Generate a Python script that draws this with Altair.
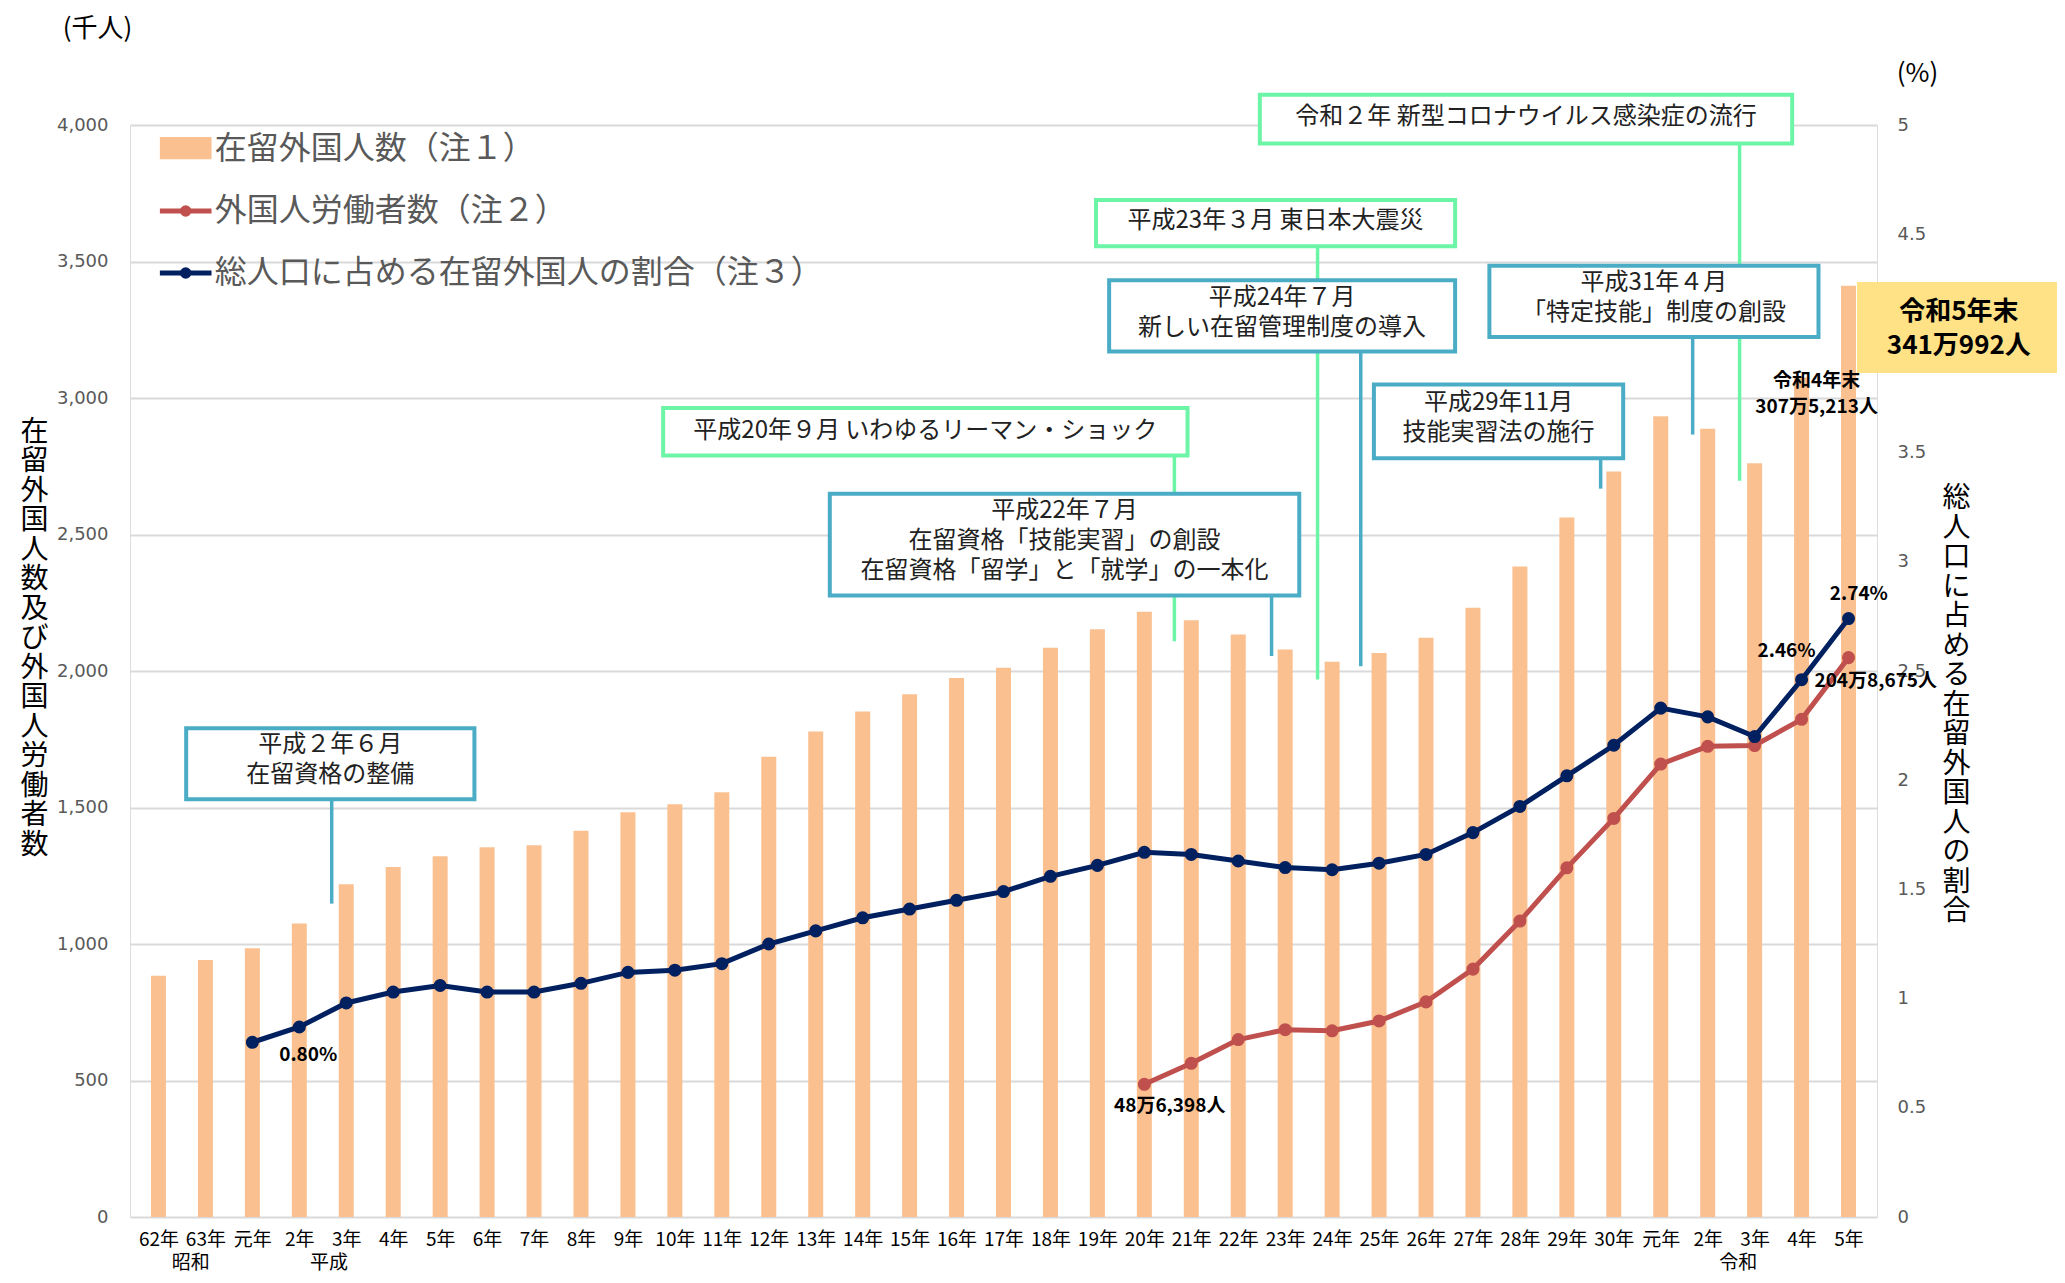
import altair as alt
import pandas as pd

# ---------------- data ----------------
years = ['62年', '63年', '元年'] + [f'{i}年' for i in range(2, 31)] + ['元年', '2年', '3年', '4年', '5年']

# 在留外国人数 (千人), 昭和62年〜令和5年
residents = [884, 941, 984, 1075, 1219, 1282, 1321, 1354, 1362, 1415, 1483, 1512, 1556,
             1686, 1778, 1852, 1915, 1974, 2012, 2085, 2153, 2217, 2186, 2134, 2079, 2034,
             2066, 2122, 2232, 2383, 2562, 2731, 2933, 2887, 2761, 3075, 3411]

# 外国人労働者数 (千人), 平成20年〜令和5年
workers_start = 21
workers = [486, 563, 650, 686, 682, 718, 788, 908, 1084, 1279, 1460, 1659, 1724, 1727, 1823, 2049]

# 総人口に占める在留外国人の割合 (%), 平成元年〜令和5年
ratio_start = 2
ratio = [0.80, 0.87, 0.98, 1.03, 1.06, 1.03, 1.03, 1.07, 1.12, 1.13, 1.16, 1.25, 1.31, 1.37,
         1.41, 1.45, 1.49, 1.56, 1.61, 1.67, 1.66, 1.63, 1.60, 1.59, 1.62, 1.66, 1.76, 1.88,
         2.02, 2.16, 2.33, 2.29, 2.20, 2.46, 2.74]

era_labels = ['昭和', '平成', '令和']
era_pos = [0.69, 3.63, 33.65]

# annotation boxes (x in category index units, y in 千人)
ann_text = ['平成２年６月\n在留資格の整備',
            '平成20年９月 いわゆるリーマン・ショック',
            '平成22年７月\n在留資格「技能実習」の創設\n在留資格「留学」と「就学」の一本化',
            '平成23年３月 東日本大震災',
            '平成24年７月\n新しい在留管理制度の導入',
            '平成29年11月\n技能実習法の施行',
            '令和２年 新型コロナウイルス感染症の流行',
            '平成31年４月\n「特定技能」制度の創設']
ann_x1 = [0.59, 10.75, 14.30, 19.97, 20.25, 25.89, 23.46, 28.35]
ann_x2 = [6.73, 21.92, 24.30, 27.62, 27.62, 31.20, 34.80, 35.36]
ann_top = [1790, 2963, 2649, 3725, 3431, 3049, 4111, 3484]
ann_bot = [1530, 2789, 2277, 3556, 3170, 2779, 3932, 3223]
ann_first_line = [1729, 2880, 2586, 3647, 3368, 2982, 4029, 3421]
ann_line_x = [3.69, 21.64, 23.71, 24.69, 25.61, 30.72, 33.68, 32.68]
ann_line_end = [1148, 2109, 2055, 1969, 2017, 2668, 2697, 2866]
TEAL = '#4BACC6'
GREEN = '#6CF5A6'
ann_color = [TEAL, GREEN, TEAL, GREEN, TEAL, TEAL, GREEN, TEAL]

# value labels
lab_text = ['0.80%', '48万6,398人', '2.46%', '2.74%', '204万8,675人', '令和4年末\n307万5,213人']
lab_x = [3.19, 21.54, 34.68, 36.22, 36.58, 35.32]
lab_y = [593, 406, 2073, 2282, 1963, 3064]

BAR = '#FAC090'
RED = '#C0504D'
NAVY = '#002060'
YELLOW = '#FFE285'
GREY = '#595959'
FONT = 'Noto Sans CJK JP'

# ---------------- scales / axes ----------------
label_expr = '[' + ','.join(f"'{y}'" for y in years) + '][datum.value]'
xscale = alt.Scale(domain=[-0.5, 36.5], nice=False, zero=False)
xaxis = alt.Axis(values=list(range(len(years))), labelExpr=label_expr, title=None, grid=False,
                 ticks=False, domain=False, labelAngle=0, labelFontSize=19, labelColor='black',
                 labelPadding=13, labelOverlap=False, labelFlush=False, labelBound=False, labelFont=FONT)
yscale = alt.Scale(domain=[0, 4000], nice=False, zero=True)
yaxis = alt.Axis(values=list(range(0, 4001, 500)), labelExpr="format(datum.value, ',')", title=None,
                 grid=True, gridColor='#D9D9D9', gridWidth=2, ticks=False, domain=False,
                 labelFontSize=18, labelColor=GREY, labelPadding=22, labelFont='DejaVu Sans',
                 orient='left')
rscale = alt.Scale(domain=[0, 5], nice=False, zero=True)
raxis = alt.Axis(orient='right', values=[0, 0.5, 1, 1.5, 2, 2.5, 3, 3.5, 4, 4.5, 5],
                 labelExpr="'' + datum.value", title=None, grid=False, ticks=False, domain=False,
                 labelFontSize=18, labelColor=GREY, labelPadding=20, labelFont='DejaVu Sans')


def X(f='x'):
    return alt.X(f'{f}:Q', scale=xscale, axis=xaxis)


def Y(f='y'):
    return alt.Y(f'{f}:Q', scale=yscale, axis=yaxis)


# ---------------- frames ----------------
df_bar = pd.DataFrame({'x': list(range(len(years))), 'y': residents})
df_work = pd.DataFrame({'x': list(range(workers_start, workers_start + len(workers))), 'y': workers})
df_ratio = pd.DataFrame({'x': list(range(ratio_start, ratio_start + len(ratio))), 'r': ratio})
df_ann = pd.DataFrame({'x': ann_x1, 'x2': ann_x2, 'y': ann_top, 'y2': ann_bot,
                       'lx': ann_line_x, 'ly': ann_line_end, 'c': ann_color, 't': ann_text,
                       'cx': [(a + b) / 2 for a, b in zip(ann_x1, ann_x2)],
                       'ty': ann_first_line})
df_lab = pd.DataFrame({'x': lab_x, 'y': lab_y, 't': lab_text})
df_era = pd.DataFrame({'x': era_pos, 'y': [-170] * 3, 't': era_labels})

# ---------------- layers ----------------
bars = alt.Chart(df_bar).mark_bar(size=15, color=BAR, orient='vertical').encode(x=X(), y=Y())

work_line = alt.Chart(df_work).mark_line(color=RED, strokeWidth=5).encode(x=X(), y=Y())
work_pts = alt.Chart(df_work).mark_circle(color=RED, size=170, opacity=1).encode(x=X(), y=Y())

ann_rules = alt.Chart(df_ann).mark_rule(strokeWidth=3.5).encode(
    x=X('lx'), y=Y('y2'), y2=alt.Y2('ly'), color=alt.Color('c:N', scale=None))
ann_rects = alt.Chart(df_ann).mark_rect(fill='white', strokeWidth=4).encode(
    x=X(), x2=alt.X2('x2'), y=Y(), y2=alt.Y2('y2'), stroke=alt.Stroke('c:N', scale=None))
ann_texts = alt.Chart(df_ann).mark_text(fontSize=24, color='#222222', lineBreak='\n',
                                        lineHeight=30, baseline='middle', align='center',
                                        font=FONT).encode(x=X('cx'), y=Y('ty'), text='t:N')

labels = alt.Chart(df_lab).mark_text(fontSize=19, fontWeight='bold', color='black', lineBreak='\n',
                                     lineHeight=26, baseline='middle', align='center',
                                     font=FONT).encode(x=X(), y=Y(), text='t:N')

# 令和5年末 box
df_yel = pd.DataFrame({'x': [36.18], 'x2': [40.6], 'y': [3425], 'y2': [3092]})
yel_rect = alt.Chart(df_yel).mark_rect(fill=YELLOW).encode(x=X(), x2=alt.X2('x2'), y=Y(), y2=alt.Y2('y2'))
df_yel_t = pd.DataFrame({'x': [38.35], 'y': [3315], 't': ['令和5年末\n341万992人']})
yel_text = alt.Chart(df_yel_t).mark_text(fontSize=26, fontWeight='bold', color='black', lineBreak='\n',
                                         lineHeight=34, baseline='middle', align='center',
                                         font=FONT).encode(x=X(), y=Y(), text='t:N')

era = alt.Chart(df_era).mark_text(fontSize=19, color='black', baseline='middle', align='center',
                                  font=FONT).encode(x=X(), y=Y(), text='t:N')

# unit labels and stacked axis titles
df_units = pd.DataFrame({'x': [-1.30, 37.47], 'y': [4352, 4187], 't': ['(千人)', '(%)']})
units = alt.Chart(df_units).mark_text(fontSize=26, color='black', baseline='middle', align='center',
                                      font=FONT).encode(x=X(), y=Y(), text='t:N')
left_title = '在留外国人数及び外国人労働者数'
right_title = '総人口に占める在留外国人の割合'
df_titles = pd.DataFrame({'x': [-2.64, 38.30], 'y': [2872, 2630],
                          't': ['\n'.join(left_title), '\n'.join(right_title)]})
titles = alt.Chart(df_titles).mark_text(fontSize=28, color='black', lineBreak='\n', lineHeight=29.5,
                                        baseline='middle', align='center',
                                        font=FONT).encode(x=X(), y=Y(), text='t:N')

# legend
legend_names = ['在留外国人数（注１）', '外国人労働者数（注２）', '総人口に占める在留外国人の割合（注３）']
df_leg_rect = pd.DataFrame({'x': [0.03], 'x2': [1.13], 'y': [3956], 'y2': [3875]})
leg_rect = alt.Chart(df_leg_rect).mark_rect(fill=BAR).encode(x=X(), x2=alt.X2('x2'), y=Y(), y2=alt.Y2('y2'))
df_leg_line = pd.DataFrame({'x': [0.03, 0.03], 'x2': [1.13, 1.13], 'y': [3685, 3458],
                            'xm': [0.58, 0.58], 'c': [RED, NAVY]})
leg_lines = alt.Chart(df_leg_line).mark_rule(strokeWidth=5).encode(
    x=X(), x2=alt.X2('x2'), y=Y(), color=alt.Color('c:N', scale=None))
leg_pts = alt.Chart(df_leg_line).mark_circle(size=130, opacity=1).encode(
    x=X('xm'), y=Y(), color=alt.Color('c:N', scale=None))
df_leg_text = pd.DataFrame({'x': [1.20] * 3, 'y': [3912, 3685, 3458], 't': legend_names})
leg_text = alt.Chart(df_leg_text).mark_text(fontSize=32, color=GREY, baseline='middle', align='left',
                                            font=FONT).encode(x=X(), y=Y(), text='t:N')

left = alt.layer(bars, work_line, work_pts, ann_rules, ann_rects, ann_texts, labels, yel_rect,
                 yel_text, era, units, titles, leg_rect, leg_lines, leg_pts, leg_text)

ratio_line = alt.Chart(df_ratio).mark_line(color=NAVY, strokeWidth=5).encode(
    x=X(), y=alt.Y('r:Q', scale=rscale, axis=raxis))
ratio_pts = alt.Chart(df_ratio).mark_circle(color=NAVY, size=170, opacity=1).encode(
    x=X(), y=alt.Y('r:Q', scale=rscale, axis=raxis))
right = alt.layer(ratio_line, ratio_pts)

chart = alt.layer(left, right).resolve_scale(y='independent').properties(
    width=1747, height=1092,
    padding={'left': 122, 'top': 117, 'right': 180, 'bottom': 58},
    autosize=alt.AutoSizeParams(type='none'),
).configure_view(stroke=None).configure(font=FONT)

chart.save('out.html', embed_options={'renderer': 'svg', 'actions': False})
